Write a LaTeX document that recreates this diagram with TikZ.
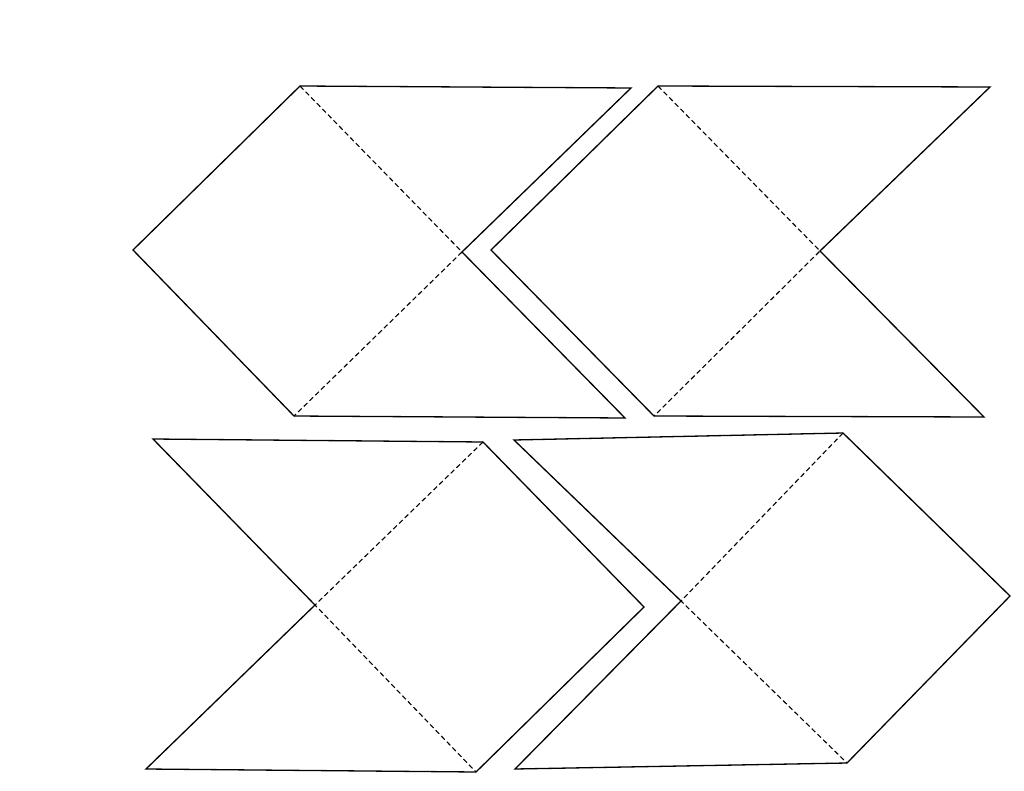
\documentclass[tikz,border=0pt]{standalone}
\begin{document}
\begin{tikzpicture}[x=1pt,y=-1pt,
  edge/.style={line width=1.3pt,line join=miter},
  fold/.style={line width=1.1pt,dash pattern=on 5pt off 3pt}]
\useasboundingbox (0,0) rectangle (1024,791);
% shape 1
\coordinate (a1) at (300,86);
\coordinate (b1) at (631,88);
\coordinate (c1) at (462,252);
\coordinate (d1) at (625,418);
\coordinate (e1) at (294,416);
\coordinate (f1) at (133,250);
\draw[edge] (a1) -- (b1) -- (c1) -- (d1) -- (e1) -- (f1) -- cycle;
\draw[fold] (a1) -- (c1) -- (e1);
% shape 2
\coordinate (a2) at (658,86);
\coordinate (b2) at (990,87);
\coordinate (c2) at (820,251);
\coordinate (d2) at (984,417);
\coordinate (e2) at (654,416);
\coordinate (f2) at (491,250);
\draw[edge] (a2) -- (b2) -- (c2) -- (d2) -- (e2) -- (f2) -- cycle;
\draw[fold] (a2) -- (c2) -- (e2);
% shape 3
\coordinate (a3) at (153,439);
\coordinate (b3) at (483,442);
\coordinate (c3) at (644,607);
\coordinate (d3) at (476,772);
\coordinate (e3) at (146,769);
\coordinate (f3) at (315,605);
\draw[edge] (a3) -- (b3) -- (c3) -- (d3) -- (e3) -- (f3) -- cycle;
\draw[fold] (b3) -- (f3) -- (d3);
% shape 4
\coordinate (a4) at (514,440);
\coordinate (b4) at (843,433);
\coordinate (c4) at (1010,596);
\coordinate (d4) at (847,763);
\coordinate (e4) at (515,769);
\coordinate (f4) at (681,601);
\draw[edge] (a4) -- (b4) -- (c4) -- (d4) -- (e4) -- (f4) -- cycle;
\draw[fold] (b4) -- (f4) -- (d4);
\end{tikzpicture}
\end{document}
